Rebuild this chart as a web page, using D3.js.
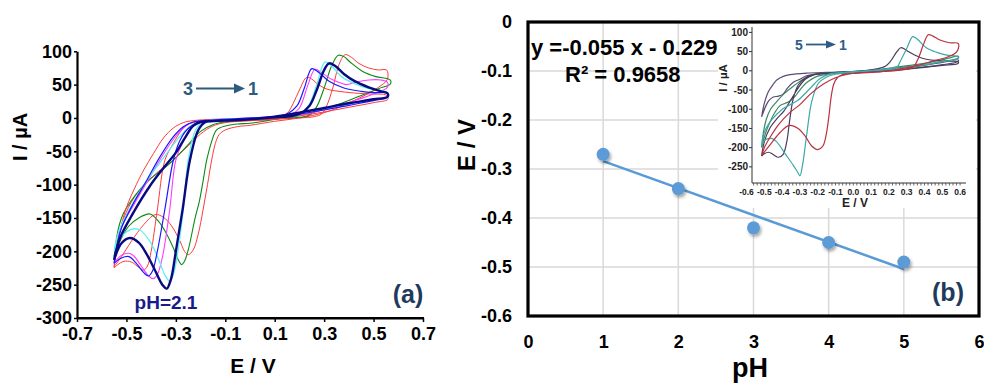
<!DOCTYPE html>
<html>
<head>
<meta charset="utf-8">
<script src="https://cdn.jsdelivr.net/npm/d3@7"></script>
<style>
  body { margin: 0; background: #fff; }
  svg { display: block; }
  text { font-family: "Liberation Sans", Arial, sans-serif; font-weight: bold; }
</style>
</head>
<body>
<svg id="chart" width="984" height="383"></svg>
<script>
// ---- panel (a): cyclic voltammograms, [E (V), I (µA)] ----
const cvRedA = [[-0.55,-223],[-0.535,-185],[-0.51,-150],[-0.47,-120],[-0.42,-98],[-0.37,-80],[-0.33,-70],[-0.29,-55],[-0.25,-42],[-0.2,-24],[-0.15,-12],[-0.1,-7],[0,-4],[0.1,-2],[0.2,0],[0.26,2],[0.29,6],[0.31,18],[0.335,45],[0.36,80],[0.385,95],[0.41,91],[0.44,82],[0.48,75],[0.52,72],[0.553,72],[0.556,58],[0.52,46],[0.47,35],[0.42,26],[0.36,16],[0.3,8],[0.2,0],[0.1,-5],[0,-11],[-0.05,-13],[-0.1,-18],[-0.125,-25],[-0.14,-38],[-0.155,-63],[-0.172,-100],[-0.19,-138],[-0.21,-175],[-0.23,-198],[-0.25,-205],[-0.265,-200],[-0.283,-185],[-0.317,-162],[-0.35,-149],[-0.384,-145],[-0.43,-160],[-0.48,-185],[-0.52,-208],[-0.55,-223]];
const cvGreen = [[-0.55,-208],[-0.535,-170],[-0.52,-150],[-0.5,-135],[-0.42,-97],[-0.33,-70],[-0.25,-40],[-0.2,-20],[-0.15,-10],[-0.1,-6],[0,-3],[0.1,-1],[0.2,1],[0.24,4],[0.27,17],[0.3,45],[0.33,78],[0.357,94],[0.38,92],[0.405,84],[0.46,69],[0.51,62],[0.567,57],[0.568,51],[0.52,44],[0.445,33],[0.34,18],[0.25,8],[0.15,1],[0.07,-4],[0,-8],[-0.05,-9],[-0.1,-12],[-0.135,-18],[-0.155,-35],[-0.175,-63],[-0.19,-95],[-0.205,-125],[-0.222,-150],[-0.25,-198],[-0.265,-215],[-0.276,-220],[-0.29,-213],[-0.31,-195],[-0.34,-172],[-0.37,-155],[-0.405,-144],[-0.45,-150],[-0.49,-162],[-0.52,-180],[-0.55,-208]];
const cvRedB = [[-0.55,-225],[-0.535,-185],[-0.52,-160],[-0.499,-133],[-0.46,-100],[-0.43,-78],[-0.39,-53],[-0.35,-30],[-0.31,-15],[-0.27,-7],[-0.23,-4],[-0.15,-2],[-0.05,-1],[0.05,0],[0.12,3],[0.15,7],[0.175,22],[0.2,42],[0.23,61],[0.255,57],[0.27,52],[0.3,45],[0.324,42],[0.36,40],[0.405,38],[0.48,36],[0.553,34],[0.558,28],[0.5,23],[0.4,16],[0.3,9],[0.2,3],[0.1,-2],[0,-4],[-0.1,-5],[-0.2,-6],[-0.25,-9],[-0.276,-18],[-0.31,-38],[-0.344,-63],[-0.375,-138],[-0.4,-200],[-0.415,-222],[-0.43,-228],[-0.45,-224],[-0.48,-216],[-0.51,-215],[-0.535,-220],[-0.55,-225]];
const cvMagenta = [[-0.55,-218],[-0.535,-185],[-0.52,-163],[-0.47,-130],[-0.41,-92],[-0.355,-57],[-0.3,-27],[-0.26,-12],[-0.22,-5],[-0.15,-3],[-0.05,-1],[0.05,1],[0.12,3],[0.17,6],[0.2,15],[0.235,50],[0.263,73],[0.29,68],[0.33,58],[0.37,52],[0.391,50],[0.43,54],[0.48,57],[0.53,57],[0.555,54],[0.556,46],[0.5,36],[0.43,27],[0.35,18],[0.25,8],[0.15,2],[0.05,-1],[-0.05,-3],[-0.15,-4],[-0.2,-5],[-0.245,-18],[-0.27,-35],[-0.3,-63],[-0.325,-138],[-0.355,-210],[-0.375,-235],[-0.391,-241],[-0.41,-237],[-0.44,-222],[-0.47,-207],[-0.49,-203],[-0.52,-206],[-0.55,-218]];
const cvCyan = [[-0.55,-200],[-0.535,-175],[-0.52,-160],[-0.47,-125],[-0.41,-90],[-0.35,-60],[-0.3,-35],[-0.25,-15],[-0.21,-6],[-0.15,-3],[-0.05,-1],[0.05,0],[0.15,2],[0.2,5],[0.24,20],[0.27,50],[0.304,84],[0.33,78],[0.37,62],[0.42,52],[0.48,44],[0.555,38],[0.556,32],[0.5,27],[0.4,21],[0.3,14],[0.2,7],[0.1,1],[0,-2],[-0.1,-4],[-0.17,-6],[-0.2,-9],[-0.22,-18],[-0.25,-63],[-0.27,-138],[-0.29,-195],[-0.31,-235],[-0.325,-245],[-0.345,-235],[-0.37,-212],[-0.4,-188],[-0.445,-168],[-0.48,-167],[-0.52,-178],[-0.55,-200]];
const cvBlue = [[-0.55,-218],[-0.535,-185],[-0.52,-165],[-0.479,-133],[-0.42,-95],[-0.364,-58],[-0.31,-28],[-0.27,-13],[-0.23,-6],[-0.15,-3],[-0.05,-1],[0.05,1],[0.12,3],[0.15,6],[0.19,18],[0.22,45],[0.25,74],[0.28,68],[0.32,55],[0.38,45],[0.45,40],[0.5,38],[0.555,37],[0.556,31],[0.5,26],[0.4,19],[0.3,12],[0.2,6],[0.1,1],[0,-2],[-0.1,-3],[-0.2,-5],[-0.256,-18],[-0.285,-35],[-0.31,-63],[-0.345,-138],[-0.375,-200],[-0.395,-230],[-0.411,-237],[-0.43,-232],[-0.46,-218],[-0.49,-208],[-0.52,-210],[-0.55,-218]];
const cvNavy = [[-0.55,-213],[-0.526,-180],[-0.472,-142],[-0.405,-102],[-0.35,-75],[-0.3,-52],[-0.26,-28],[-0.23,-12],[-0.2,-6],[-0.1,-4],[0,-2],[0.1,1],[0.17,3],[0.2,6],[0.24,18],[0.27,42],[0.3,72],[0.32,82],[0.345,78],[0.38,66],[0.42,56],[0.48,46],[0.53,40],[0.556,37],[0.557,32],[0.5,28],[0.4,22],[0.3,15],[0.2,8],[0.1,2],[0,-2],[-0.1,-4],[-0.16,-5],[-0.18,-6],[-0.209,-18],[-0.243,-63],[-0.273,-138],[-0.3,-200],[-0.32,-242],[-0.337,-256],[-0.355,-250],[-0.385,-228],[-0.42,-203],[-0.45,-187],[-0.486,-180],[-0.52,-188],[-0.55,-213]];

const cvSeries = [
  { pts: cvRedA, color: '#ff3a3a', w: 1 },
  { pts: cvGreen, color: '#0d8a12', w: 1.1 },
  { pts: cvRedB, color: '#ff3a3a', w: 1 },
  { pts: cvMagenta, color: '#ff3cff', w: 1.1 },
  { pts: cvCyan, color: '#5ff0f0', w: 1.3 },
  { pts: cvBlue, color: '#1a1aff', w: 1.2 },
  { pts: cvNavy, color: '#0a0a80', w: 2.4 }
];

const aXTicks = [-0.7, -0.5, -0.3, -0.1, 0.1, 0.3, 0.5, 0.7];
const aYTicks = [100, 50, 0, -50, -100, -150, -200, -250, -300];

// ---- panel (b): peak potential vs pH ----
const phValues = [1, 2, 3, 4, 5];
const epValues = [-0.27, -0.34, -0.42, -0.45, -0.49];
const fitSlope = -0.055;
const fitIntercept = -0.229;
const bXTicks = [0, 1, 2, 3, 4, 5, 6];
const bYTicks = [0, -0.1, -0.2, -0.3, -0.4, -0.5, -0.6];

// ---- inset of (b) ----
const inRed = [[-0.515,-220],[-0.5,-200],[-0.47,-175],[-0.42,-140],[-0.36,-110],[-0.3,-88],[-0.24,-60],[-0.17,-35],[-0.1,-18],[-0.03,-9],[0.05,-5],[0.15,-2],[0.25,1],[0.31,5],[0.337,10],[0.365,32],[0.393,67],[0.421,94],[0.445,91],[0.487,80],[0.54,73],[0.59,71],[0.582,50],[0.53,36],[0.45,26],[0.38,16],[0.3,8],[0.2,0],[0.1,-4],[0,-7],[-0.06,-10],[-0.09,-18],[-0.11,-35],[-0.125,-70],[-0.135,-110],[-0.15,-160],[-0.17,-195],[-0.2,-205],[-0.235,-195],[-0.27,-170],[-0.31,-150],[-0.36,-142],[-0.41,-160],[-0.46,-188],[-0.515,-220]];
const inTeal = [[-0.515,-195],[-0.5,-160],[-0.468,-133],[-0.43,-113],[-0.393,-98],[-0.35,-87],[-0.309,-76],[-0.243,-46],[-0.187,-20],[-0.13,-8],[-0.05,-4],[0.05,-1],[0.15,3],[0.22,7],[0.25,12],[0.262,23],[0.3,58],[0.334,89],[0.36,82],[0.41,60],[0.47,48],[0.525,41],[0.59,36],[0.588,31],[0.5,24],[0.4,16],[0.3,9],[0.2,3],[0.1,-1],[0,-4],[-0.1,-9],[-0.15,-16],[-0.197,-33],[-0.234,-81],[-0.262,-167],[-0.285,-245],[-0.3,-273],[-0.315,-262],[-0.337,-246],[-0.384,-215],[-0.43,-185],[-0.459,-176],[-0.496,-180],[-0.515,-195]];
const inPurple = [[-0.515,-222],[-0.5,-185],[-0.47,-150],[-0.43,-125],[-0.39,-105],[-0.35,-75],[-0.31,-45],[-0.27,-22],[-0.22,-10],[-0.15,-6],[-0.05,-3],[0.05,0],[0.13,5],[0.18,12],[0.206,23],[0.244,49],[0.266,60],[0.29,56],[0.309,50],[0.35,40],[0.393,32],[0.46,27],[0.52,25],[0.59,23],[0.588,19],[0.5,14],[0.4,9],[0.3,4],[0.2,0],[0.1,-3],[0,-5],[-0.1,-6],[-0.187,-8],[-0.262,-16],[-0.309,-37],[-0.337,-72],[-0.356,-124],[-0.374,-185],[-0.395,-218],[-0.42,-225],[-0.45,-218],[-0.475,-212],[-0.5,-216],[-0.515,-222]];
const inGreen = [[-0.515,-200],[-0.505,-160],[-0.49,-128],[-0.465,-100],[-0.43,-80],[-0.39,-60],[-0.337,-40],[-0.28,-22],[-0.22,-10],[-0.15,-6],[-0.05,-3],[0.05,-1],[0.15,4],[0.25,10],[0.35,16],[0.45,24],[0.52,31],[0.59,38],[0.588,33],[0.5,24],[0.4,15],[0.3,8],[0.2,3],[0.1,-1],[0,-4],[-0.1,-7],[-0.2,-14],[-0.26,-30],[-0.3,-50],[-0.33,-68],[-0.36,-80],[-0.385,-85],[-0.41,-90],[-0.44,-108],[-0.47,-135],[-0.495,-165],[-0.515,-200]];
const inGray = [[-0.515,-120],[-0.5,-85],[-0.478,-55],[-0.45,-35],[-0.43,-24],[-0.39,-14],[-0.356,-10],[-0.262,-6],[-0.15,-4],[0,-2],[0.1,1],[0.2,5],[0.3,10],[0.4,15],[0.5,22],[0.59,28],[0.588,24],[0.5,16],[0.4,10],[0.3,5],[0.2,1],[0.1,-2],[0,-4],[-0.1,-6],[-0.2,-8],[-0.262,-13],[-0.3,-22],[-0.337,-30],[-0.37,-45],[-0.393,-60],[-0.42,-66],[-0.449,-68],[-0.47,-75],[-0.49,-90],[-0.515,-120]];

const inSeries = [
  { pts: inGray, color: '#5b4a73' },
  { pts: inGreen, color: '#3a8a62' },
  { pts: inPurple, color: '#4a3a5c' },
  { pts: inTeal, color: '#3fa8a8' },
  { pts: inRed, color: '#b8323f' }
];
const inXTicks = [-0.6, -0.5, -0.4, -0.3, -0.2, -0.1, 0, 0.1, 0.2, 0.3, 0.4, 0.5, 0.6];
const inYTicks = [100, 50, 0, -50, -100, -150, -200, -250];

const svg = d3.select('#chart');
const fmt1 = d => (Math.abs(d) < 1e-9 ? 0 : d).toFixed(1);

// shadow for the points of (b)
svg.append('defs').append('filter').attr('id', 'shadow')
  .attr('x', '-50%').attr('y', '-50%').attr('width', '200%').attr('height', '200%')
  .append('feDropShadow')
  .attr('dx', 1.5).attr('dy', 2.5).attr('stdDeviation', 1.6)
  .attr('flood-color', '#000').attr('flood-opacity', 0.35);

// =============== panel (a) ===============
const ax = d3.scaleLinear().domain([-0.7, 0.7]).range([77, 423]);
const ay = d3.scaleLinear().domain([-300, 100]).range([318, 51.3]);
const cvLine = d3.line()
  .x(d => ax(d[0])).y(d => ay(d[1]))
  .curve(d3.curveCatmullRom.alpha(0.5));

const gA = svg.append('g');
cvSeries.forEach(s => {
  gA.append('path')
    .attr('d', cvLine(s.pts))
    .attr('fill', 'none')
    .attr('stroke', s.color)
    .attr('stroke-width', s.w)
    .attr('stroke-linejoin', 'round');
});

const axA = gA.append('g')
  .attr('transform', 'translate(0,318)')
  .call(d3.axisBottom(ax).tickValues(aXTicks).tickSize(4).tickSizeOuter(0).tickPadding(5).tickFormat(fmt1));
const ayA = gA.append('g')
  .attr('transform', 'translate(77,0)')
  .call(d3.axisLeft(ay).tickValues(aYTicks).tickSize(3).tickSizeOuter(0).tickPadding(2).tickFormat(d => String(d)));
[axA, ayA].forEach(g => {
  g.select('.domain').attr('stroke', '#000').attr('stroke-width', 2.2);
  g.selectAll('.tick line').attr('stroke', '#000').attr('stroke-width', 1.5);
  g.selectAll('.tick text').attr('fill', '#000').style('font-size', '18px')
    .style('font-family', '"Liberation Sans", Arial, sans-serif').style('font-weight', 'bold');
});
// extend the x axis line to the y axis
gA.append('line').attr('x1', 77).attr('x2', 424).attr('y1', 318).attr('y2', 318)
  .attr('stroke', '#000').attr('stroke-width', 2.2);

gA.append('text').attr('x', 253).attr('y', 373).attr('text-anchor', 'middle')
  .style('font-size', '21px').text('E / V');
gA.append('text').attr('transform', 'translate(27,137) rotate(-90)').attr('text-anchor', 'middle')
  .style('font-size', '20px').text('I / µA');

// "3 → 1"
const arrowCol = '#2f5b7c';
gA.append('text').attr('x', 183).attr('y', 95).attr('fill', arrowCol).style('font-size', '18px').text('3');
gA.append('line').attr('x1', 196).attr('x2', 236).attr('y1', 88.5).attr('y2', 88.5)
  .attr('stroke', arrowCol).attr('stroke-width', 2);
gA.append('path').attr('d', 'M234,83.5L245,88.5L234,93.5Z').attr('fill', arrowCol);
gA.append('text').attr('x', 248).attr('y', 95).attr('fill', arrowCol).style('font-size', '18px').text('1');

gA.append('text').attr('x', 166).attr('y', 309).attr('text-anchor', 'middle')
  .attr('fill', '#1a1a8c').style('font-size', '19px').text('pH=2.1');
gA.append('text').attr('x', 408).attr('y', 303).attr('text-anchor', 'middle')
  .attr('fill', '#1f3b5c').style('font-size', '25px').text('(a)');

// =============== panel (b) ===============
const bx = d3.scaleLinear().domain([0, 6]).range([528, 979]);
const by = d3.scaleLinear().domain([-0.6, 0]).range([316, 22]);
const gB = svg.append('g');

gB.selectAll('.vgrid').data(bXTicks.slice(1, -1)).enter().append('line')
  .attr('x1', d => bx(d)).attr('x2', d => bx(d)).attr('y1', by(0)).attr('y2', by(-0.6))
  .attr('stroke', '#d9d9d9').attr('stroke-width', 1.5);
gB.selectAll('.hgrid').data(bYTicks.slice(1, -1)).enter().append('line')
  .attr('x1', bx(0)).attr('x2', bx(6)).attr('y1', d => by(d)).attr('y2', d => by(d))
  .attr('stroke', '#d9d9d9').attr('stroke-width', 1.5);

// ---- inset ----
const gI = gB.append('g');
gI.append('rect').attr('x', 718).attr('y', 24).attr('width', 258).attr('height', 184).attr('fill', '#fff');
const ix = d3.scaleLinear().domain([-0.6, 0.6]).range([746.5, 960.1]);
const iy = d3.scaleLinear().domain([-292, 114]).range([183, 27]);
const inLine = d3.line()
  .x(d => ix(d[0])).y(d => iy(d[1]))
  .curve(d3.curveCatmullRom.alpha(0.5));
inSeries.forEach(s => {
  gI.append('path').attr('d', inLine(s.pts)).attr('fill', 'none')
    .attr('stroke', s.color).attr('stroke-width', 1.2).attr('stroke-linejoin', 'round');
});
// inset axes
gI.append('line').attr('x1', 752).attr('x2', 752).attr('y1', 27).attr('y2', 183)
  .attr('stroke', '#333').attr('stroke-width', 1);
gI.append('line').attr('x1', 752).attr('x2', 966).attr('y1', 183).attr('y2', 183)
  .attr('stroke', '#333').attr('stroke-width', 1);
gI.selectAll('.iyt').data(inYTicks).enter().append('line')
  .attr('x1', 749).attr('x2', 752).attr('y1', d => iy(d)).attr('y2', d => iy(d))
  .attr('stroke', '#333');
gI.selectAll('.iyl').data(inYTicks).enter().append('text')
  .attr('x', 748).attr('y', d => iy(d)).attr('dy', '0.35em').attr('text-anchor', 'end')
  .attr('fill', '#222').style('font-size', '10px').text(d => String(d));
gI.selectAll('.ixm').data(d3.range(-28, 31).map(k => k * 0.02).filter(v => ix(v) >= 752))
  .enter().append('line')
  .attr('x1', d => ix(d)).attr('x2', d => ix(d)).attr('y1', 183).attr('y2', 185.5)
  .attr('stroke', '#444').attr('stroke-width', 0.8);
gI.selectAll('.ixl').data(inXTicks).enter().append('text')
  .attr('x', d => ix(d)).attr('y', 195).attr('text-anchor', 'middle')
  .attr('fill', '#222').style('font-size', '8.5px').text(fmt1);
gI.append('text').attr('x', 855).attr('y', 207).attr('text-anchor', 'middle')
  .attr('fill', '#222').style('font-size', '12px').text('E / V');
gI.append('text').attr('transform', 'translate(727,78) rotate(-90)').attr('text-anchor', 'middle')
  .attr('fill', '#222').style('font-size', '11.5px').text('I / µA');
const inArrow = '#2e5c8a';
gI.append('text').attr('x', 795).attr('y', 49.5).attr('fill', inArrow).style('font-size', '14px').text('5');
gI.append('line').attr('x1', 806).attr('x2', 828).attr('y1', 44.5).attr('y2', 44.5)
  .attr('stroke', inArrow).attr('stroke-width', 1.8);
gI.append('path').attr('d', 'M826,40.5L836,44.5L826,48.5Z').attr('fill', inArrow);
gI.append('text').attr('x', 839).attr('y', 49.5).attr('fill', inArrow).style('font-size', '14px').text('1');

// trend line and points
const fitX = [phValues[0], phValues[phValues.length - 1]];
gB.append('line')
  .attr('x1', bx(fitX[0])).attr('y1', by(fitSlope * fitX[0] + fitIntercept))
  .attr('x2', bx(fitX[1])).attr('y2', by(fitSlope * fitX[1] + fitIntercept))
  .attr('stroke', '#5b9bd5').attr('stroke-width', 2.5);
gB.selectAll('.pt').data(phValues).enter().append('circle')
  .attr('cx', d => bx(d)).attr('cy', (d, i) => by(epValues[i])).attr('r', 6.5)
  .attr('fill', '#5b9bd5').attr('filter', 'url(#shadow)');

// frame
gB.append('rect').attr('x', 528).attr('y', 22).attr('width', 451).attr('height', 294)
  .attr('fill', 'none').attr('stroke', '#000').attr('stroke-width', 3.2);

const bxA = gB.append('g').attr('transform', 'translate(0,316)')
  .call(d3.axisBottom(bx).tickValues(bXTicks).tickSize(0).tickPadding(19).tickFormat(d => String(d)));
const byA = gB.append('g').attr('transform', 'translate(528,0)')
  .call(d3.axisLeft(by).tickValues(bYTicks).tickSize(0).tickPadding(16).tickFormat(d => (Math.abs(d) < 1e-9 ? '0' : fmt1(d))));
[bxA, byA].forEach(g => {
  g.select('.domain').remove();
  g.selectAll('.tick text').attr('fill', '#000').style('font-size', '18px')
    .style('font-family', '"Liberation Sans", Arial, sans-serif').style('font-weight', 'bold');
});

gB.append('text').attr('x', 750).attr('y', 377).attr('text-anchor', 'middle')
  .style('font-size', '27px').text('pH');
gB.append('text').attr('transform', 'translate(475,145) rotate(-90)').attr('text-anchor', 'middle')
  .style('font-size', '24px').text('E / V');

gB.append('text').attr('x', 531).attr('y', 55).style('font-size', '22px').text('y =-0.055 x - 0.229');
gB.append('text').attr('x', 565).attr('y', 82).style('font-size', '22px').text('R² = 0.9658');
gB.append('text').attr('x', 948).attr('y', 301).attr('text-anchor', 'middle')
  .attr('fill', '#1f3b5c').style('font-size', '25px').text('(b)');
</script>
</body>
</html>
